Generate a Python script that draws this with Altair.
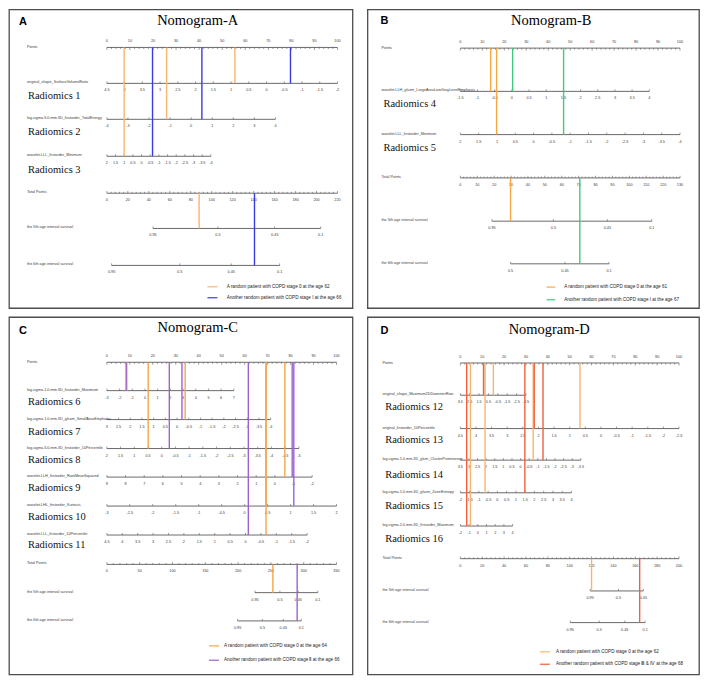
import altair as alt
import pandas as pd

# ------------------------------------------------------------------ data
# Panel A
A_VARS = ["original_shape_SurfaceVolumeRatio",
          "log.sigma.5.0.mm.3D_firstorder_TotalEnergy",
          "wavelet.LLL_firstorder_Minimum"]
A_RAD = ["Radiomics 1", "Radiomics 2", "Radiomics 3"]
A_TICKS = [["4.5", "4", "3.5", "3", "2.5", "2", "1.5", "1", "0.5", "0", "-0.5", "-1", "-1.5", "-2"],
           ["-4", "-3", "-2", "-1", "0", "1", "2", "3", "4"],
           ["2", "1.5", "1", "0.5", "0", "-0.5", "-1", "-1.5", "-2", "-2.5", "-3", "-3.5", "-4"]]
A_END = [100, 73.1, 45.1]
A_TOTAL_MAX, A_TOTAL_STEP = 220, 20
A_SURV_LABELS = [["0.95", "0.5", "0.45", "0.1"], ["0.95", "0.5", "0.45", "0.1"]]
A_SURV_POS = [[44, 105.9, 160, 204], [4.5, 69.5, 118.6, 164.8]]
A_PAT_TEXT = ["A random patient with COPD stage 0 at the age 62",
              "Another random patient with COPD stage I at the age 66"]
A_PAT_COLOR = ["#F8B574", "#3A3AE6"]
A_PAT_POINTS = [[55.5, 25.9, 7.5], [79.6, 41.2, 19.8]]
A_PAT_TOTAL = [88, 140.8]
A_PAT_SURV = [0, 1]

# Panel B
B_VARS = ["wavelet.LLH_glszm_LargeAreaLowGrayLevelEmphasis",
          "wavelet.LLL_firstorder_Minimum"]
B_RAD = ["Radiomics 4", "Radiomics 5"]
B_TICKS = [["-1.5", "-1", "-0.5", "0", "0.5", "1", "1.5", "2", "2.5", "3", "3.5", "4"],
           ["2", "1.5", "1", "0.5", "0", "-0.5", "-1", "-1.5", "-2", "-2.5", "-3", "-3.5", "-4"]]
B_END = [86.0, 100]
B_TOTAL_MAX, B_TOTAL_STEP = 130, 10
B_SURV_LABELS = [["0.95", "0.5", "0.45", "0.1"], ["0.5", "0.45", "0.1"]]
B_SURV_POS = [[18.7, 55.1, 87.0, 113.3], [29.7, 61.9, 88.0]]
B_PAT_TEXT = ["A  random patient with COPD stage 0 at the age 61",
              "Another  random patient with COPD stage I at the age 67"]
B_PAT_COLOR = ["#F7A845", "#3FCB7B"]
B_PAT_POINTS = [[13.8, 16.5], [23.8, 47.0]]
B_PAT_TOTAL = [29.7, 70.7]
B_PAT_SURV = [0, 1]

# Panel C
C_VARS = ["log.sigma.1.0.mm.3D_firstorder_Maximum",
          "log.sigma.1.0.mm.3D_glszm_SmallAreaEmphasis",
          "log.sigma.5.0.mm.3D_firstorder_10Percentile",
          "wavelet.LLH_firstorder_RootMeanSquared",
          "wavelet.LHL_firstorder_Kurtosis",
          "wavelet.LLL_firstorder_10Percentile"]
C_RAD = ["Radiomics 6", "Radiomics 7", "Radiomics 8", "Radiomics 9", "Radiomics 10", "Radiomics 11"]
C_TICKS = [["-3", "-2", "-1", "0", "1", "2", "3", "4", "5", "6", "7"],
           ["3", "2.5", "2", "1.5", "1", "0.5", "0", "-0.5", "-1", "-1.5", "-2", "-2.5", "-3", "-3.5", "-4"],
           ["2", "1.5", "1", "0.5", "0", "-0.5", "-1", "-1.5", "-2", "-2.5", "-3", "-3.5", "-4", "-4.5", "-5"],
           ["9", "8", "7", "6", "5", "4", "3", "2", "1", "0", "-1", "-2"],
           ["-3", "-2.5", "-2", "-1.5", "-1", "-0.5", "0", "0.5", "1", "1.5", "2"],
           ["4.5", "4", "3.5", "3", "2.5", "2", "1.5", "1", "0.5", "0", "-0.5", "-1", "-1.5", "-2"]]
C_END = [55.3, 71.3, 83.6, 89.4, 100, 87.2]
C_TOTAL_MAX, C_TOTAL_STEP = 350, 50
C_SURV_LABELS = [["0.95", "0.5", "0.45", "0.1"], ["0.95", "0.5", "0.45", "0.1"]]
C_SURV_POS = [[225.7, 263.7, 291.7, 321.5], [199.3, 237, 268.9, 296.3]]
C_PAT_TEXT = ["A  random patient with COPD stage 0 at the age 64",
              "Another  random patient with COPD stage \u2161 at the age 66"]
C_PAT_COLOR = ["#F5A548", "#9C62D2"]
C_PAT_POINTS = [[8.7, 34.1, 18.0, 77.5, 69.3, 69.3], [8.4, 32.7, 27.2, 80.7, 81.4, 61.6]]
C_PAT_TOTAL = [253, 290]
C_PAT_SURV = [0, 1]

# Panel D
D_VARS = ["original_shape_Maximum2DDiameterRow",
          "original_firstorder_10Percentile",
          "log.sigma.1.0.mm.3D_glcm_ClusterProminence",
          "log.sigma.1.0.mm.3D_glszm_ZoneEntropy",
          "log.sigma.2.0.mm.3D_firstorder_Maximum"]
D_RAD = ["Radiomics 12", "Radiomics 13", "Radiomics 14", "Radiomics 15", "Radiomics 16"]
D_TICKS = [["3.5", "2.5", "1.5", "0.5", "-0.5", "-1.5", "-2.5", "-3.5"],
           ["4.5", "4", "3.5", "3", "2.5", "2", "1.5", "1", "0.5", "0", "-0.5", "-1", "-1.5", "-2", "-2.5"],
           ["3.5", "3", "2.5", "2", "1.5", "1", "0.5", "0", "-0.5", "-1", "-1.5", "-2", "-2.5", "-3", "-3.5"],
           ["-2", "-1.5", "-1", "-0.5", "0", "0.5", "1", "1.5", "2", "2.5", "3", "3.5", "4"],
           ["-2", "-1", "0", "1", "2", "3", "4"]]
D_END = [30.0, 100, 55.1, 50.8, 23.9]
D_TOTAL_MAX, D_TOTAL_STEP = 200, 20
D_SURV_LABELS = [["0.95", "0.5", "0.45"], ["0.95", "0.5", "0.45", "0.1"]]
D_SURV_POS = [[118.7, 144.6, 167.4], [100.5, 127, 150.4, 169]]
D_PAT_TEXT = ["A  random patient with COPD stage 0 at the age 62",
              "Another  random patient with COPD stage \u2162 & \u2163 at the age 68"]
D_PAT_COLOR = ["#F9B46C", "#F2603E"]
D_PAT_POINTS = [[15.1, 54.7, 33.3, 11.3, 4.6], [10.6, 33.8, 37.8, 29.5, 2.9]]
D_PAT_TOTAL = [120, 164]
D_PAT_SURV = [0, 1]

SURV_NAMES = ["the 5th age interval survival", "the 6th age interval survival"]

# ------------------------------------------------------------------ layout
LA = dict(W=344, H=299, p0=98, p100=329, letter=(10, 13), title=(189, 12), name_x=18, rad_x=19,
          y_points=38, y_rows=[74, 110, 147], y_rad=[87, 123, 161], y_total=184,
          y_surv=[219.3, 256.3], leg_y=[277.7, 288.7], leg_x=(198.7, 208.7, 218))
LB = dict(W=332, H=299, p0=93, p100=313, letter=(13, 12), title=(184, 12), name_x=14, rad_x=16,
          y_points=38.7, y_rows=[82, 125.3], y_rad=[94.7, 138.7], y_total=168.7,
          y_surv=[212, 254.7], leg_y=[278, 290.7], leg_x=(179.3, 188, 197))
LC = dict(W=344, H=358, p0=98, p100=328, letter=(10, 14), title=(189, 11), name_x=18, rad_x=19,
          y_points=45.3, y_rows=[73.7, 102.7, 131.7, 160.3, 189.3, 218.3],
          y_rad=[85.3, 115, 142.7, 171, 200.3, 228.3], y_total=247.7,
          y_surv=[276, 304.3], leg_y=[329.3, 343.7], leg_x=(200.3, 210.3, 215.3))
LD = dict(W=332, H=358, p0=93, p100=312, letter=(13, 14), title=(182, 12.7), name_x=15, rad_x=17.7,
          y_points=46, y_rows=[78.3, 111.7, 143.3, 176, 209.3],
          y_rad=[90.3, 122.7, 157.7, 189.3, 222], y_total=242,
          y_surv=[274.3, 306], leg_y=[335.3, 347.7], leg_x=(172.7, 182.7, 188.7))

AXIS_COLOR = "#5a5a5a"
LABEL_COLOR = "#3a3a3a"
SMALL_FONT = "Liberation Sans"


def build(letter, title, vars_, rads, ticks, ends, tmax, tstep, slabels, spos,
          ptext, pcolor, ppoints, ptotal, psurv, L):
    W, H, p0, p100 = L["W"], L["H"], L["p0"], L["p100"]
    ppu = (p100 - p0) / 100.0
    xs = alt.Scale(domain=[-p0 / ppu, (W - p0) / ppu], nice=False, zero=False)
    ys = alt.Scale(domain=[0, H], reverse=True, nice=False, zero=False)

    def pt(px):
        return (px - p0) / ppu

    X = alt.X("x:Q", scale=xs, axis=None)
    X2 = alt.X2("x2:Q")
    Y = alt.Y("y:Q", scale=ys, axis=None)
    Y2 = alt.Y2("y2:Q")

    hl, tk, tl, names = [], [], [], []
    yp = L["y_points"]
    # Points axis
    hl.append(dict(x=0, x2=100, y=yp))
    for v in range(0, 101, 2):
        tk.append(dict(x=v, y=yp, y2=yp + (2.5 if v % 10 == 0 else 1.6)))
    for v in range(0, 101, 10):
        tl.append(dict(x=v, y=yp - 6, t=str(v)))
    names.append(dict(x=pt(L["name_x"]), y=yp, t="Points"))
    # variable axes
    for i, (nm, tks, end) in enumerate(zip(vars_, ticks, ends)):
        y = L["y_rows"][i]
        hl.append(dict(x=0, x2=end, y=y))
        n = len(tks)
        for j, lab in enumerate(tks):
            xv = end * j / (n - 1)
            tk.append(dict(x=xv, y=y - 2, y2=y))
            tl.append(dict(x=xv, y=y + 7, t=lab))
        names.append(dict(x=pt(L["name_x"]), y=y - 1, t=nm))
    # total points axis
    yt = L["y_total"]
    hl.append(dict(x=0, x2=100, y=yt))
    minor = tstep / 5.0
    k = 0
    while k * minor <= tmax + 1e-9:
        v = k * minor
        tk.append(dict(x=v / tmax * 100, y=yt - (2.2 if k % 5 == 0 else 1.4), y2=yt))
        k += 1
    for v in range(0, tmax + 1, tstep):
        tl.append(dict(x=v / tmax * 100, y=yt + 7, t=str(v)))
    names.append(dict(x=pt(L["name_x"]), y=yt - 1, t="Total Points"))
    # survival axes
    for i in range(2):
        y = L["y_surv"][i]
        pos = [p / tmax * 100 for p in spos[i]]
        hl.append(dict(x=min(pos), x2=max(pos), y=y))
        for p, lab in zip(pos, slabels[i]):
            tk.append(dict(x=p, y=y - 2, y2=y))
            tl.append(dict(x=p, y=y + 7, t=lab))
        names.append(dict(x=pt(L["name_x"]), y=y - 1, t=SURV_NAMES[i]))

    rad = [dict(x=pt(L["rad_x"]), y=L["y_rad"][i], t=r) for i, r in enumerate(rads)]

    # patient lines
    pl = []
    for pi in range(len(ptext)):
        for i, v in enumerate(ppoints[pi]):
            pl.append(dict(x=v, y=yp, y2=L["y_rows"][i], c=pcolor[pi]))
        pl.append(dict(x=ptotal[pi] / tmax * 100, y=yt, y2=L["y_surv"][psurv[pi]], c=pcolor[pi]))
    lx0, lx1, lxt = L["leg_x"]
    leg = [dict(x=pt(lx0), x2=pt(lx1), y=L["leg_y"][i], c=pcolor[i]) for i in range(len(ptext))]
    legt = [dict(x=pt(lxt), y=L["leg_y"][i], t=ptext[i]) for i in range(len(ptext))]

    layers = [
        alt.Chart(pd.DataFrame(hl)).mark_rule(color=AXIS_COLOR, strokeWidth=0.9).encode(x=X, x2=X2, y=Y),
        alt.Chart(pd.DataFrame(tk)).mark_rule(color=AXIS_COLOR, strokeWidth=0.6).encode(x=X, y=Y, y2=Y2),
        alt.Chart(pd.DataFrame(tl)).mark_text(font=SMALL_FONT, fontSize=3.8, color=LABEL_COLOR,
                                              align="center", baseline="middle").encode(x=X, y=Y, text="t:N"),
        alt.Chart(pd.DataFrame(names)).mark_text(font=SMALL_FONT, fontSize=3.8, color=LABEL_COLOR,
                                                 align="left", baseline="middle").encode(x=X, y=Y, text="t:N"),
        alt.Chart(pd.DataFrame(rad)).mark_text(font="Liberation Serif", fontSize=10.5, color="#111",
                                               align="left", baseline="middle").encode(x=X, y=Y, text="t:N"),
        alt.Chart(pd.DataFrame(pl)).mark_rule(strokeWidth=1.4).encode(
            x=X, y=Y, y2=Y2, color=alt.Color("c:N", scale=None)),
        alt.Chart(pd.DataFrame(leg)).mark_rule(strokeWidth=1.2).encode(
            x=X, x2=X2, y=Y, color=alt.Color("c:N", scale=None)),
        alt.Chart(pd.DataFrame(legt)).mark_text(font=SMALL_FONT, fontSize=4.6, color="#222",
                                                align="left", baseline="middle").encode(x=X, y=Y, text="t:N"),
        alt.Chart(pd.DataFrame([dict(x=pt(L["title"][0]), y=L["title"][1], t=title)])).mark_text(
            font="Liberation Serif", fontSize=14.5, color="#000", align="center", baseline="middle"
        ).encode(x=X, y=Y, text="t:N"),
        alt.Chart(pd.DataFrame([dict(x=pt(L["letter"][0]), y=L["letter"][1], t=letter)])).mark_text(
            font="Liberation Sans", fontSize=11, fontWeight="bold", color="#000", align="left", baseline="middle"
        ).encode(x=X, y=Y, text="t:N"),
    ]
    return alt.layer(*layers).properties(width=W, height=H)


pA = build("A", "Nomogram-A", A_VARS, A_RAD, A_TICKS, A_END, A_TOTAL_MAX, A_TOTAL_STEP,
           A_SURV_LABELS, A_SURV_POS, A_PAT_TEXT, A_PAT_COLOR, A_PAT_POINTS, A_PAT_TOTAL, A_PAT_SURV, LA)
pB = build("B", "Nomogram-B", B_VARS, B_RAD, B_TICKS, B_END, B_TOTAL_MAX, B_TOTAL_STEP,
           B_SURV_LABELS, B_SURV_POS, B_PAT_TEXT, B_PAT_COLOR, B_PAT_POINTS, B_PAT_TOTAL, B_PAT_SURV, LB)
pC = build("C", "Nomogram-C", C_VARS, C_RAD, C_TICKS, C_END, C_TOTAL_MAX, C_TOTAL_STEP,
           C_SURV_LABELS, C_SURV_POS, C_PAT_TEXT, C_PAT_COLOR, C_PAT_POINTS, C_PAT_TOTAL, C_PAT_SURV, LC)
pD = build("D", "Nomogram-D", D_VARS, D_RAD, D_TICKS, D_END, D_TOTAL_MAX, D_TOTAL_STEP,
           D_SURV_LABELS, D_SURV_POS, D_PAT_TEXT, D_PAT_COLOR, D_PAT_POINTS, D_PAT_TOTAL, D_PAT_SURV, LD)

row1 = alt.hconcat(pA, pB, spacing=15, bounds="flush").resolve_scale(x="independent", y="independent")
row2 = alt.hconcat(pC, pD, spacing=15, bounds="flush").resolve_scale(x="independent", y="independent")
chart = (alt.vconcat(row1, row2, spacing=7)
         .resolve_scale(x="independent", y="independent")
         .properties(padding=0, background="white")
         .configure_view(stroke="#4d4d4d", strokeWidth=1.3))

chart.save("out.html", embed_options={"renderer": "svg", "actions": False})
